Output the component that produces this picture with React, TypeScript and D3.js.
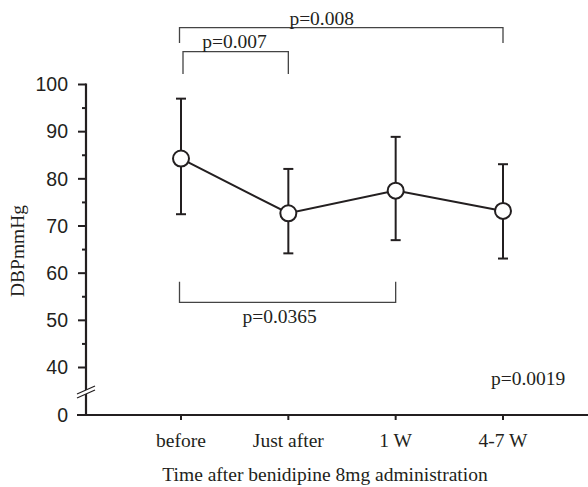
import React, { useEffect, useRef } from 'react';
import * as d3 from 'd3';

const categories = ['before', 'Just after', '1 W', '4-7 W'];
const means = [84.3, 72.7, 77.5, 73.2];
const upper = [97.0, 82.1, 88.9, 83.1];
const lower = [72.5, 64.2, 67.0, 63.1];
const yTicks = [40, 50, 60, 70, 80, 90, 100];
const yMinorTicks = [45, 55, 65, 75, 85, 95];
const brackets = [
  { from: 0, to: 3, label: 'p=0.008' },
  { from: 0, to: 1, label: 'p=0.007' },
  { from: 0, to: 2, label: 'p=0.0365' },
];
const overallP = 'p=0.0019';

const serif = '"Liberation Serif", "Times New Roman", serif';
const sans = '"Liberation Sans", Arial, sans-serif';
const ink = '#231f20';

const App = () => {
  const svgRef = useRef<SVGSVGElement>(null);

  useEffect(() => {
    const width = 588;
    const height = 487;
    const axisX = 86;
    const zeroY = 415;

    const svg = d3.select(svgRef.current);
    svg.selectAll('*').remove();
    svg.attr('width', width).attr('height', height);

    const x = d3.scalePoint<string>().domain(categories).range([181, 503]);
    const y = d3.scaleLinear().domain([40, 100]).range([367.5, 84.5]);

    // y axis line (with break)
    svg.append('line')
      .attr('x1', axisX).attr('x2', axisX)
      .attr('y1', y(100) - 1).attr('y2', zeroY)
      .attr('stroke', ink).attr('stroke-width', 2.2);

    // break marks
    const breakY = 391;
    svg.append('polygon')
      .attr('points', `${axisX - 9},${breakY + 3} ${axisX + 9},${breakY - 5} ${axisX + 9},${breakY - 1} ${axisX - 9},${breakY + 7}`)
      .attr('fill', 'white');
    [0, 4].forEach(d => {
      svg.append('line')
        .attr('x1', axisX - 9).attr('y1', breakY + 3 + d)
        .attr('x2', axisX + 9).attr('y2', breakY - 5 + d)
        .attr('stroke', ink).attr('stroke-width', 1.2);
    });

    // y ticks
    svg.selectAll('.ymajor')
      .data(yTicks).enter().append('line')
      .attr('x1', axisX - 8).attr('x2', axisX)
      .attr('y1', d => y(d)).attr('y2', d => y(d))
      .attr('stroke', ink).attr('stroke-width', 2);
    svg.selectAll('.yminor')
      .data(yMinorTicks).enter().append('line')
      .attr('x1', axisX - 4).attr('x2', axisX)
      .attr('y1', d => y(d)).attr('y2', d => y(d))
      .attr('stroke', ink).attr('stroke-width', 2);
    svg.selectAll('.ylabel')
      .data(yTicks).enter().append('text')
      .attr('x', 68).attr('y', d => y(d))
      .attr('dy', '0.35em')
      .attr('text-anchor', 'end')
      .attr('font-family', sans).attr('font-size', 19.5)
      .attr('fill', ink)
      .text(d => d);
    svg.append('text')
      .attr('x', 68).attr('y', zeroY).attr('dy', '0.35em')
      .attr('text-anchor', 'end')
      .attr('font-family', sans).attr('font-size', 19.5)
      .attr('fill', ink)
      .text(0);

    // x axis
    svg.append('line')
      .attr('x1', 77).attr('x2', width)
      .attr('y1', zeroY).attr('y2', zeroY)
      .attr('stroke', ink).attr('stroke-width', 2.2);
    svg.selectAll('.xtick')
      .data(categories).enter().append('line')
      .attr('x1', d => x(d)!).attr('x2', d => x(d)!)
      .attr('y1', zeroY).attr('y2', zeroY + 5)
      .attr('stroke', ink).attr('stroke-width', 2);
    svg.selectAll('.xlabel')
      .data(categories).enter().append('text')
      .attr('x', d => x(d)!).attr('y', 447)
      .attr('text-anchor', 'middle')
      .attr('font-family', serif).attr('font-size', 19.5)
      .attr('fill', ink)
      .text(d => d);

    svg.append('text')
      .attr('x', 325).attr('y', 481)
      .attr('text-anchor', 'middle')
      .attr('font-family', serif).attr('font-size', 19.5)
      .attr('fill', ink)
      .text('Time after benidipine 8mg administration');

    svg.append('text')
      .attr('transform', 'translate(24,251) rotate(-90)')
      .attr('text-anchor', 'middle')
      .attr('font-family', serif).attr('font-size', 19.5)
      .attr('fill', ink)
      .text('DBPmmHg');

    // error bars
    const cap = 5;
    categories.forEach((c, i) => {
      const cx = x(c)!;
      svg.append('line')
        .attr('x1', cx).attr('x2', cx)
        .attr('y1', y(upper[i])).attr('y2', y(lower[i]))
        .attr('stroke', ink).attr('stroke-width', 2);
      [upper[i], lower[i]].forEach(v => {
        svg.append('line')
          .attr('x1', cx - cap).attr('x2', cx + cap)
          .attr('y1', y(v)).attr('y2', y(v))
          .attr('stroke', ink).attr('stroke-width', 2);
      });
    });

    const line = d3.line<number>()
      .x((_, i) => x(categories[i])!)
      .y(d => y(d));
    svg.append('path')
      .datum(means)
      .attr('d', line)
      .attr('fill', 'none')
      .attr('stroke', ink).attr('stroke-width', 2);

    svg.selectAll('.pt')
      .data(means).enter().append('circle')
      .attr('cx', (_, i) => x(categories[i])!)
      .attr('cy', d => y(d))
      .attr('r', 8)
      .attr('fill', 'white')
      .attr('stroke', ink).attr('stroke-width', 2);

    // significance brackets
    const levels = [
      { bar: 27.7, tip: 43, textX: 321.7, textY: 25 },
      { bar: 51.7, tip: 74, textX: 234.5, textY: 48 },
      { bar: 302.3, tip: 281.7, textX: 279.7, textY: 322.5 },
    ];
    brackets.forEach((b, i) => {
      const lv = levels[i];
      const x1 = x(categories[b.from])! + (i === 1 ? 2 : -1.5);
      const x2 = x(categories[b.to])!;
      svg.append('path')
        .attr('d', `M${x1},${lv.tip}V${lv.bar}H${x2}V${lv.tip}`)
        .attr('fill', 'none')
        .attr('stroke', '#444').attr('stroke-width', 1.3);
      svg.append('text')
        .attr('x', lv.textX).attr('y', lv.textY)
        .attr('text-anchor', 'middle')
        .attr('font-family', serif).attr('font-size', 19.5)
        .attr('fill', ink)
        .text(b.label);
    });

    svg.append('text')
      .attr('x', 491).attr('y', 385)
      .attr('font-family', serif).attr('font-size', 19.5)
      .attr('fill', ink)
      .text(overallP);
  }, []);

  return <svg ref={svgRef} style={{ position: 'absolute', left: 0, top: 0 }}></svg>;
};

export default App;
